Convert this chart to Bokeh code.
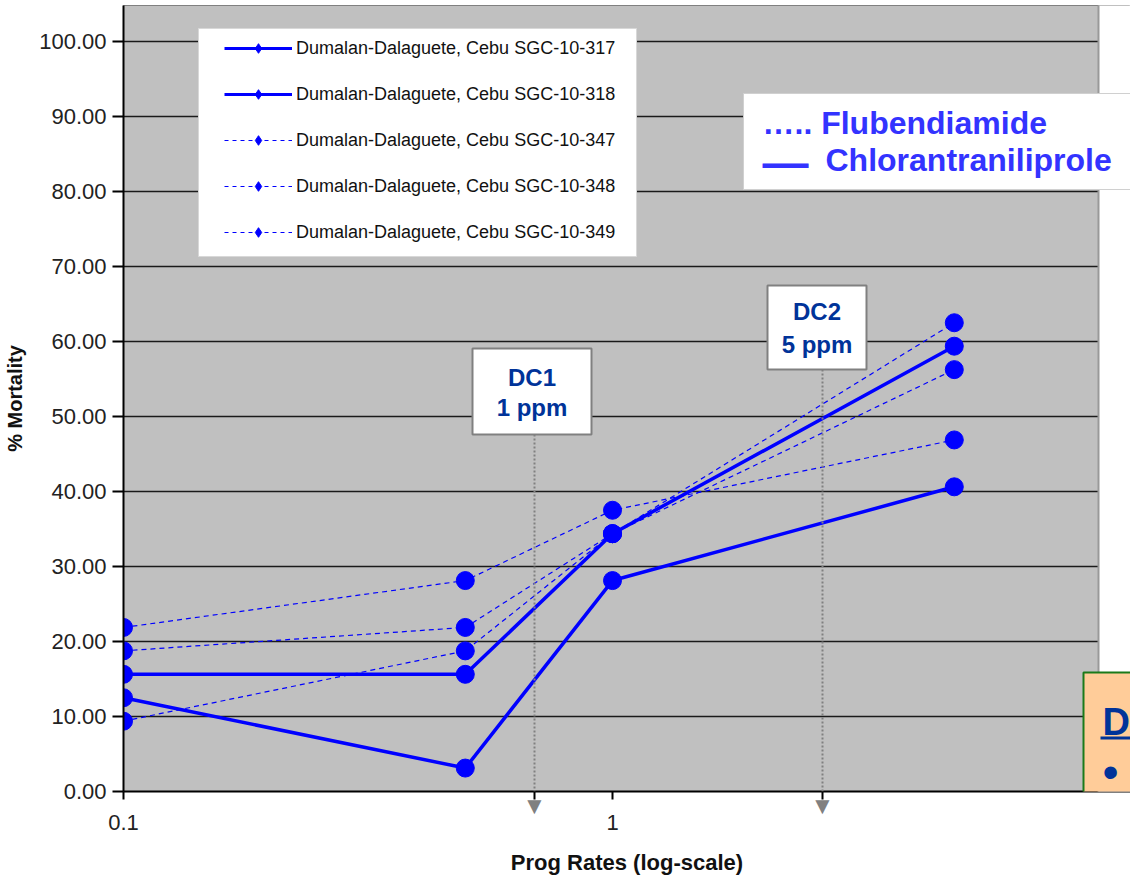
import math
from bokeh.plotting import figure
from bokeh.models import (Range1d, FixedTicker, NumeralTickFormatter, Legend, LegendItem,
                          BoxAnnotation, Label, Arrow, LogAxis)
from bokeh.embed import file_html
from bokeh.resources import INLINE

# ---------------- data ----------------
rates = [0.1, 0.5, 1.0, 5.0]
names = ["Dumalan-Dalaguete, Cebu SGC-10-317",
         "Dumalan-Dalaguete, Cebu SGC-10-318",
         "Dumalan-Dalaguete, Cebu SGC-10-347",
         "Dumalan-Dalaguete, Cebu SGC-10-348",
         "Dumalan-Dalaguete, Cebu SGC-10-349"]
s317 = [12.5, 3.125, 28.125, 40.625]
s318 = [15.625, 15.625, 34.375, 59.375]
s347 = [21.875, 28.125, 37.5, 46.875]
s348 = [18.75, 21.875, 34.375, 62.5]
s349 = [9.375, 18.75, 34.375, 56.25]
series = [s317, s318, s347, s348, s349]
solid = [True, True, False, False, False]
x_ticks = [0.1, 1.0]
x_tick_labels = ["0.1", "1"]
y_ticks = [0, 10, 20, 30, 40, 50, 60, 70, 80, 90, 100]
dc_texts = [("DC1", "1 ppm"), ("DC2", "5 ppm")]

BLUE = "#0000FF"
SANS = "'Liberation Sans', Arial"

# layout constants (pixels)
FRAME_L, FRAME_B = 123, 792
DECADE = 489.0
X_END = 10 ** (-1 + (1130 - FRAME_L) / DECADE)

p = figure(width=1130, height=877, x_axis_type="log",
           x_range=Range1d(0.1, X_END), y_range=Range1d(0, 104.8),
           output_backend="svg", toolbar_location=None,
           min_border_left=FRAME_L, min_border_right=0,
           min_border_top=5, min_border_bottom=85)
p.background_fill_color = "#C0C0C0"
p.border_fill_color = "white"
p.outline_line_color = "#808080"
p.outline_line_width = 1

p.xgrid.visible = False
p.ygrid.grid_line_color = "#1a1a1a"
p.ygrid.grid_line_width = 1.5
p.ygrid.ticker = FixedTicker(ticks=y_ticks)

# y axis
p.yaxis.ticker = FixedTicker(ticks=y_ticks)
p.yaxis.formatter = NumeralTickFormatter(format="0.00")
p.yaxis.major_tick_out = 11
p.yaxis.major_label_standoff = 6
p.yaxis.axis_label = "% Mortality"
p.yaxis.axis_label_text_font = SANS
p.yaxis.axis_label_text_font_style = "bold"
p.yaxis.axis_label_text_font_size = "20px"
p.yaxis.axis_label_text_color = "#111111"
p.yaxis.axis_label_standoff = 10

# DC marker positions on the log axis (screen px from frame left)
dc_px = [411, 699]
dc_rates = [10 ** (-1 + px / DECADE) for px in dc_px]

# x axis A (adjacent to frame): line, tick marks, DC triangles
xa = p.xaxis[0]
xa.ticker = FixedTicker(ticks=x_ticks + dc_rates)
ov = {t: "" for t in x_ticks}
ov.update({t: "\u25BC" for t in dc_rates})
xa.major_label_overrides = ov
xa.major_tick_out = 8
xa.major_label_standoff = -8
xa.major_label_text_font = SANS
xa.major_label_text_font_size = "24px"
xa.major_label_text_color = "#808080"

for ax in (xa, p.yaxis[0]):
    ax.axis_line_color = "black"
    ax.axis_line_width = 2
    ax.major_tick_line_color = "black"
    ax.major_tick_line_width = 2
    ax.major_tick_in = 0
    ax.minor_tick_line_color = None
p.yaxis.major_label_text_font = SANS
p.yaxis.major_label_text_font_size = "22px"
p.yaxis.major_label_text_color = "#222222"

# x axis B: tick labels + title
xb = LogAxis(ticker=FixedTicker(ticks=x_ticks),
             major_label_overrides={t: s for t, s in zip(x_ticks, x_tick_labels)},
             axis_line_color=None, major_tick_line_color=None, minor_tick_line_color=None,
             major_tick_out=0, major_tick_in=0, major_label_standoff=-7,
             major_label_text_font=SANS, major_label_text_font_size="22px",
             major_label_text_color="#222222",
             axis_label="Prog Rates (log-scale)", axis_label_standoff=17,
             axis_label_text_font=SANS, axis_label_text_font_style="bold",
             axis_label_text_font_size="22px", axis_label_text_color="#111111")
p.add_layout(xb, "below")

# ---------------- data lines ----------------
for vals, sol in zip(series, solid):
    if sol:
        p.line(rates, vals, line_color=BLUE, line_width=3.5)
    else:
        p.line(rates, vals, line_color=BLUE, line_width=1.2, line_dash="5 4")
    p.scatter(rates, vals, marker="circle", size=18, fill_color=BLUE, line_color=BLUE)

def sbox(l, r, t, b, **kw):
    return BoxAnnotation(left=l, right=r, top=t, bottom=b,
                         left_units="screen", right_units="screen",
                         top_units="screen", bottom_units="screen", **kw)

def slabel(x, y, text, **kw):
    return Label(x=x, y=y, x_units="screen", y_units="screen", text=text, **kw)

# white strip right of the plot area
p.add_layout(sbox(975, 1020, 800, -10, fill_color="white", fill_alpha=1.0,
                  line_color="#999999", line_alpha=1.0, line_width=2, line_dash="solid"))

# ---------------- legend ----------------
p.add_layout(sbox(75, 513, 763, 535, fill_color="white", fill_alpha=1.0,
                  line_color="#d8d8d8", line_alpha=1.0, line_width=1, line_dash="solid"))
nan = float("nan")
items = []
for nm, sol in zip(names, solid):
    if sol:
        lr = p.line([nan], [nan], line_color=BLUE, line_width=3)
    else:
        lr = p.line([nan], [nan], line_color=BLUE, line_width=1.2, line_dash="4 4")
    mr = p.scatter([nan], [nan], marker="diamond", size=10, fill_color=BLUE, line_color=BLUE)
    items.append(LegendItem(label=nm, renderers=[lr, mr]))
legend = Legend(items=items, location=(91, 537), padding=10, spacing=22,
                glyph_width=68, glyph_height=24, label_standoff=4, margin=0,
                label_text_font=SANS, label_text_font_size="18px",
                label_text_color="#111111",
                background_fill_alpha=0, border_line_alpha=0)
p.add_layout(legend)

# ---------------- DC markers ----------------
DCBLUE = "#003399"
for (lft, rgt, top, bot), cx, (t1, t2), (y1, y2) in zip(
        [(349, 468, 443, 357), (644, 743, 506, 422)], dc_px, dc_texts,
        [(414, 384), (480, 447)]):
    p.add_layout(Arrow(end=None, x_start=cx, y_start=bot, x_end=cx, y_end=0,
                       start_units="screen", end_units="screen",
                       line_color="#808080", line_width=2, line_dash="2 2"))
    p.add_layout(sbox(lft, rgt, top, bot, fill_color="white", fill_alpha=1.0,
                      line_color="#808080", line_alpha=1.0, line_width=2, line_dash="solid"))
    bx = (lft + rgt) / 2
    for t, yy in ((t1, y1), (t2, y2)):
        p.add_layout(slabel(bx, yy, t, text_align="center", text_baseline="middle",
                            text_font=SANS, text_font_style="bold", text_font_size="24px",
                            text_color=DCBLUE))

# ---------------- key box ----------------
KEY = "#3333FF"
p.add_layout(sbox(620, 1020, 698, 602, fill_color="white", fill_alpha=1.0,
                  line_color="#d0d0d0", line_alpha=1.0, line_width=1, line_dash="solid"))
p.add_layout(slabel(639, 669, "\u2026.. Flubendiamide", text_baseline="middle",
                    text_font=SANS, text_font_style="bold", text_font_size="32px",
                    text_color=KEY))
p.add_layout(slabel(639, 630, "\u2014", text_baseline="middle",
                    text_font=SANS, text_font_style="bold", text_font_size="46px",
                    text_color=KEY))
p.add_layout(slabel(702, 632, "Chlorantraniliprole", text_baseline="middle",
                    text_font=SANS, text_font_style="bold", text_font_size="32px",
                    text_color=KEY))

# ---------------- orange box ----------------
p.add_layout(sbox(960, 1020, 119, -10, fill_color="#FFCC99", fill_alpha=1.0,
                  line_color="#1a7a1a", line_alpha=1.0, line_width=2, line_dash="solid"))
p.add_layout(slabel(979, 70, "D", text_baseline="alphabetic",
                    text_font=SANS, text_font_style="bold", text_font_size="38px",
                    text_color=DCBLUE))
p.add_layout(sbox(977, 1020, 55, 52, fill_color=DCBLUE, fill_alpha=1.0,
                  line_alpha=0))
p.add_layout(slabel(987, 20, "\u2022", text_align="center", text_baseline="middle",
                    text_font=SANS, text_font_size="46px", text_color=DCBLUE))

open("out.html", "w").write(file_html(p, INLINE))
